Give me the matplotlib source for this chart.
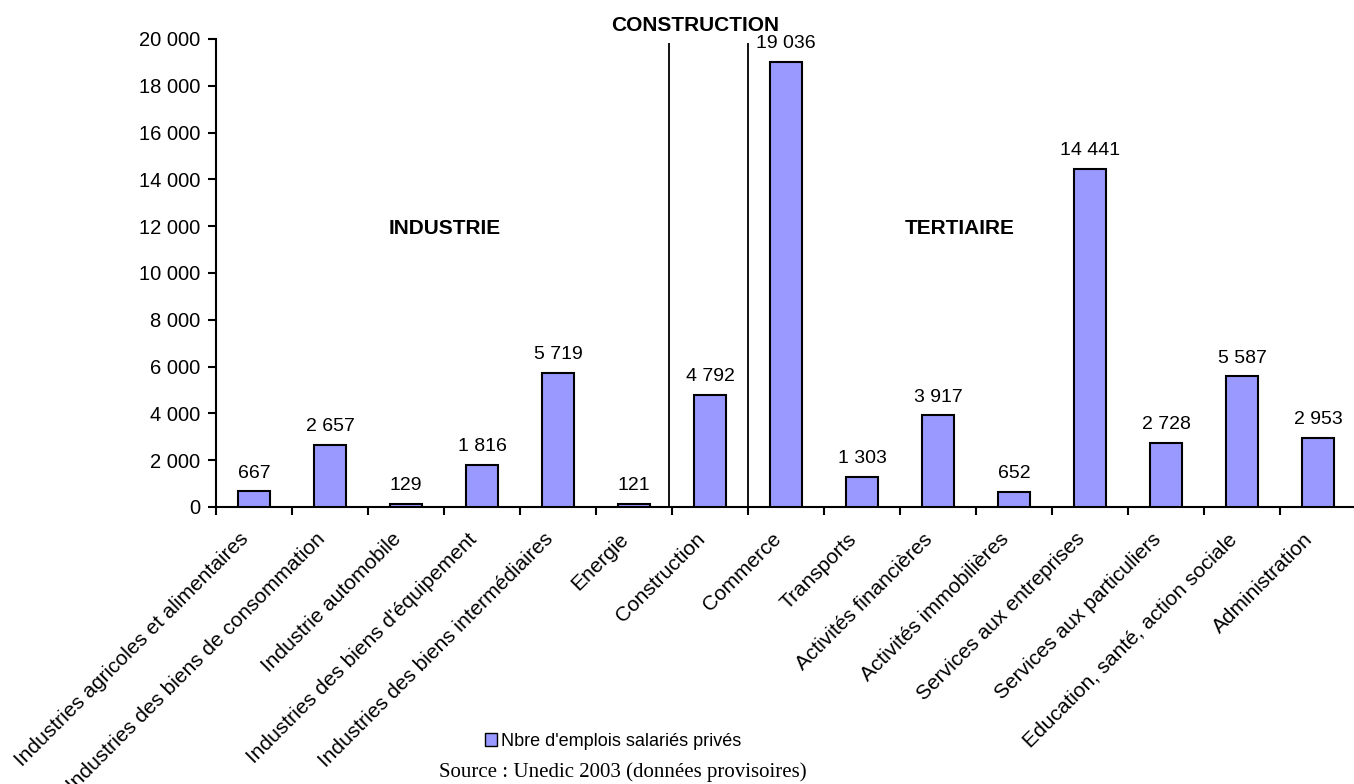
import matplotlib
matplotlib.use('Agg')
import matplotlib.pyplot as plt
from matplotlib.patches import Patch
from matplotlib.transforms import ScaledTranslation

plt.rcParams['font.family'] = ['Liberation Sans', 'DejaVu Sans']

# secteurs et emplois salariés privés
secteurs = ["Industries agricoles et alimentaires",
            "Industries des biens de consommation",
            "Industrie automobile",
            "Industries des biens d'équipement",
            "Industries des biens intermédiaires",
            "Energie",
            "Construction",
            "Commerce",
            "Transports",
            "Activités financières",
            "Activités immobilières",
            "Services aux entreprises",
            "Services aux particuliers",
            "Education, santé, action sociale",
            "Administration"]
emplois = [667, 2657, 129, 1816, 5719, 121, 4792, 19036, 1303, 3917, 652, 14441, 2728, 5587, 2953]
yticks = [0, 2000, 4000, 6000, 8000, 10000, 12000, 14000, 16000, 18000, 20000]

def fmt(v):
    return f"{v:,}".replace(',', ' ')

fig = plt.figure(figsize=(13.54, 7.84), dpi=100)
ax = fig.add_axes([216/1354, 1-507/784, 1140/1354, 468/784])

x = list(range(len(secteurs)))
ax.bar(x, emplois, width=0.42, color='#9999FF', edgecolor='black', linewidth=1.5, zorder=3)

for xi, v in zip(x, emplois):
    ax.annotate(fmt(v), (xi, v), xytext=(0, 7), textcoords='offset points',
                ha='center', va='bottom', fontsize=14)

# séparateurs de la construction
ax.vlines([5.46, 6.5], 0, 19830, color='black', linewidth=1.3)

ax.text(2.51, 11900, 'INDUSTRIE', ha='center', va='center', fontsize=15, fontweight='bold')
ax.text(9.29, 11900, 'TERTIAIRE', ha='center', va='center', fontsize=15, fontweight='bold')
ax.text(5.80, 20560, 'CONSTRUCTION', ha='center', va='center', fontsize=15, fontweight='bold')

ax.set_xlim(-0.5, len(secteurs) - 0.5)
ax.set_ylim(0, 20000)
ax.set_yticks(yticks)
ax.set_yticklabels([fmt(t) for t in yticks], fontsize=14.5)

ax.set_xticks([i - 0.5 for i in range(len(secteurs) + 1)])
ax.set_xticklabels([])
ax.set_xticks(x, minor=True)
ax.set_xticklabels(secteurs, minor=True, rotation=45, ha='right', va='center',
                   rotation_mode='anchor', fontsize=15)
ax.tick_params(axis='x', which='minor', length=0, pad=21)
ax.tick_params(axis='x', which='major', length=6, width=1.5, direction='out')
ax.tick_params(axis='y', length=6, width=1.5, direction='out', pad=5.5)
shift = ScaledTranslation(-8/100, 0, fig.dpi_scale_trans)
for lab in ax.get_xticklabels(minor=True):
    lab.set_transform(lab.get_transform() + shift)

for s in ['top', 'right']:
    ax.spines[s].set_visible(False)
ax.spines['left'].set_linewidth(1.5)
ax.spines['bottom'].set_linewidth(1.5)

fig.legend(handles=[Patch(facecolor='#9999FF', edgecolor='black', label="Nbre d'emplois salariés privés")],
           loc='center', bbox_to_anchor=(613/1354, 1-741/784), frameon=False,
           handlelength=0.7, handleheight=0.7, handletextpad=0.2, fontsize=13)
fig.text(623/1354, 1-772/784, 'Source : Unedic 2003 (données provisoires)',
         ha='center', va='center', fontsize=15, family=['Liberation Serif', 'DejaVu Serif'])

fig.savefig('out.png', dpi=100)
